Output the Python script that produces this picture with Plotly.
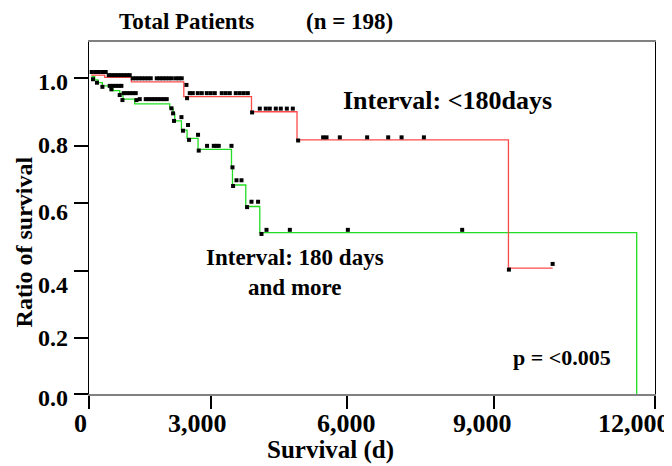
import plotly.graph_objects as go

# ---- Kaplan-Meier step curves (time in days, survival ratio) ----
red_time = [47, 333, 899, 2010, 3445, 4410, 8893, 9830]
red_surv = [1.010, 1.003, 0.989, 0.942, 0.894, 0.805, 0.399, 0.399]

green_time = [51, 121, 191, 284, 439, 509, 651, 721, 969, 1712, 1782, 1818,
              1960, 2079, 2312, 3021, 3042, 3324, 3621, 11612]
green_surv = [1.005, 0.995, 0.986, 0.976, 0.968, 0.961, 0.953, 0.934, 0.919,
              0.905, 0.889, 0.865, 0.836, 0.810, 0.775, 0.719, 0.662, 0.594,
              0.511, 0.0]

# ---- censor / event marks ----
red_mark_t = [57, 132, 206, 280, 354,
              418, 481, 545, 609, 672, 736, 800, 863,
              927, 991, 1054, 1118, 1182, 1245, 1309, 1436, 1500, 1563, 1627,
              1691, 1754, 1839, 1903, 1966,
              2066, 2079,
              2136, 2200, 2306, 2391, 2497, 2582, 2667, 2815, 2900, 2985, 3112,
              3197, 3282, 3367,
              3458,
              3621, 3748, 3833, 3960, 4066, 4194, 4321,
              4434,
              4964, 5036, 5318, 5897, 6343, 6627, 7100,
              8903, 9830]
red_mark_s = [1.020] * 5 + [1.010] * 8 + [1.000] * 16 + [0.979, 0.937] + \
             [0.953] * 14 + [0.892] + [0.904] * 7 + [0.803] + [0.813] * 7 + \
             [0.394, 0.412]

green_mark_t = [85, 170, 284, 439, 503, 566, 630, 687, 475, 651, 709,
                736, 800, 863, 927, 991, 1006,
                1076, 1203, 1266, 1330, 1394, 1457, 1521, 1585, 1648,
                1748, 1782, 1803, 1960, 1994, 2100, 2121, 2312, 2327,
                2503, 2645, 2698, 2751, 3021,
                3042, 3127, 3233, 3055, 3352, 3445, 3585, 3657,
                3763, 4258, 5488, 7912, 11612]
green_mark_s = [0.997, 0.986, 0.973] + [0.976] * 5 + [0.965, 0.947, 0.931] + \
               [0.953] * 5 + [0.931] + [0.934] * 9 + \
               [0.905, 0.889, 0.865, 0.877, 0.834, 0.852, 0.805, 0.821, 0.771] + \
               [0.786] * 5 + \
               [0.718, 0.677, 0.677, 0.659, 0.592, 0.609, 0.609, 0.507] + \
               [0.520] * 4 + [-0.007]

# ---- axis ticks and labels ----
X_MAX = 12000
Y_MAX = 1.115
x_tick_pos = [0, 2596, 5460, 8591, 12000]
x_tick_labels = ["0", "3,000", "6,000", "9,000", "12,000"]
x_label_pos = [-176, 2306, 5466, 8351, 11555]

y_tick_pos = [0.0, 0.176, 0.391, 0.606, 0.786, 1.0]
y_tick_labels = ["0.0", "0.2", "0.4", "0.6", "0.8", "1.0"]
y_label_pos = [-0.012, 0.178, 0.344, 0.578, 0.789, 0.988]

FONT = "Liberation Serif"
RED = "#ff4a4a"
GREEN = "#22dd22"

fig = go.Figure()
fig.add_trace(go.Scatter(x=green_time, y=green_surv, mode="lines",
                         line=dict(color=GREEN, width=1.3, shape="hv"),
                         showlegend=False, hoverinfo="skip", cliponaxis=False))
fig.add_trace(go.Scatter(x=red_time, y=red_surv, mode="lines",
                         line=dict(color=RED, width=1.3, shape="hv"),
                         showlegend=False, hoverinfo="skip", cliponaxis=False))
fig.add_trace(go.Scatter(x=green_mark_t, y=green_mark_s, mode="markers",
                         marker=dict(symbol="square", size=4, color="black"),
                         showlegend=False, cliponaxis=False))
fig.add_trace(go.Scatter(x=red_mark_t, y=red_mark_s, mode="markers",
                         marker=dict(symbol="square", size=4, color="black"),
                         showlegend=False, cliponaxis=False))

annotations = []
for lbl, pos in zip(x_tick_labels, x_label_pos):
    annotations.append(dict(x=pos / X_MAX, xref="paper", y=-0.085, yref="paper",
                            text=f"<b>{lbl}</b>", showarrow=False,
                            xanchor="center", yanchor="middle",
                            font=dict(family=FONT, size=26, color="black")))
for lbl, pos in zip(y_tick_labels, y_label_pos):
    annotations.append(dict(x=-0.034, xref="paper", y=pos / Y_MAX, yref="paper",
                            text=f"<b>{lbl}</b>", showarrow=False,
                            xanchor="right", yanchor="middle",
                            font=dict(family=FONT, size=24, color="black")))

annotations += [
    dict(x=0.295, y=1.057, xref="paper", yref="paper",
         text="<b>Total Patients" + "\u00a0" * 9 + "(n = 198)</b>",
         showarrow=False, xanchor="center", yanchor="middle",
         font=dict(family=FONT, size=23, color="black")),
    dict(x=0.426, y=-0.1577, xref="paper", yref="paper",
         text="<b>Survival (d)</b>", showarrow=False,
         xanchor="center", yanchor="middle",
         font=dict(family=FONT, size=25, color="black")),
    dict(x=-0.1157, y=0.432, xref="paper", yref="paper",
         text="<b>Ratio of survival</b>", showarrow=False, textangle=-90,
         xanchor="center", yanchor="middle",
         font=dict(family=FONT, size=24, color="black")),
    dict(x=7609, y=0.931, xref="x", yref="y",
         text="<b>Interval: <180days</b>", showarrow=False,
         xanchor="center", yanchor="middle",
         font=dict(family=FONT, size=26, color="black")),
    dict(x=4364, y=0.384, xref="x", yref="y",
         text="<b>Interval: 180 days<br>and more</b>", showarrow=False,
         xanchor="center", yanchor="middle", align="center",
         font=dict(family=FONT, size=23, color="black")),
    dict(x=10024, y=0.115, xref="x", yref="y",
         text="<b>p = <0.005</b>", showarrow=False,
         xanchor="center", yanchor="middle",
         font=dict(family=FONT, size=22, color="black")),
]

# The page body adds an 8px offset, so the figure is 8px smaller and
# the top/left margins are reduced by the same amount.
fig.update_layout(
    width=664, height=458,
    margin=dict(l=81, r=17, t=34, b=72),
    paper_bgcolor="white", plot_bgcolor="white",
    annotations=annotations,
    xaxis=dict(range=[0, X_MAX], showgrid=False, zeroline=False,
               tickmode="array", tickvals=x_tick_pos,
               ticktext=[""] * len(x_tick_pos),
               ticks="outside", ticklen=13, tickwidth=2, tickcolor="black",
               showline=True, linecolor="#808080", linewidth=1.5, mirror=True),
    yaxis=dict(range=[0, Y_MAX], showgrid=False, zeroline=False,
               tickmode="array", tickvals=y_tick_pos,
               ticktext=[""] * len(y_tick_pos),
               ticks="outside", ticklen=14, tickwidth=2, tickcolor="black",
               showline=True, linecolor="black", linewidth=1.2, mirror=True),
)

fig.write_html("out.html")
